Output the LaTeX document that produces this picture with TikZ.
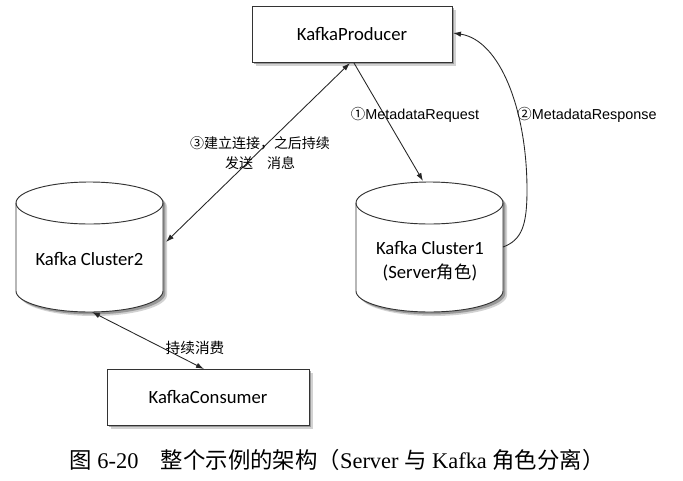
\documentclass[tikz,border=0pt]{standalone}
\usepackage{fontspec}
\setmainfont{Liberation Serif}
\newfontfamily\cjk{Noto Sans CJK SC}
\newfontfamily\calfont{Carlito}
\newfontfamily\arialfont{Liberation Sans}
\usetikzlibrary{arrows.meta,shadows}
\tikzset{
  boxnode/.style={draw=black!80, fill=white, line width=0.7pt, inner sep=0pt,
    minimum height=42pt, font=\calfont\fontsize{14}{16}\selectfont,
    drop shadow={shadow xshift=3pt, shadow yshift=-3pt, fill=black!35, opacity=.5},
    drop shadow={shadow xshift=1.8pt, shadow yshift=-1.8pt, fill=black!55, opacity=.6}},
  cylbody/.style={draw=black!80, fill=white, line width=0.7pt},
  cylshadowa/.style={fill=black!35, opacity=.5},
  cylshadowb/.style={fill=black!55, opacity=.6},
  cyllabel/.style={inner sep=1pt, align=center, font=\calfont\fontsize{14}{18}\selectfont},
  conn/.style={draw=black!85, line width=0.65pt},
  msglabel/.style={inner sep=1pt, font=\arialfont\fontsize{10.8}{13}\selectfont},
  cnlabel/.style={inner sep=1pt, align=center, font=\cjk\fontsize{10.5}{15.5}\selectfont},
}
\newcommand\cylpath[1]{(#1,203) -- (#1,291)
  arc[start angle=180,end angle=360,x radius=55.125pt,y radius=15.75pt] -- ++(0,-88)
  arc[start angle=0,end angle=180,x radius=55.125pt,y radius=15.75pt] -- cycle}
\begin{document}
\begin{tikzpicture}[x=0.75pt,y=-0.75pt,>={Latex[length=6pt,width=4pt]}]
\useasboundingbox (0,0) rectangle (683,480);
\fill[white] (0,0) rectangle (683,480);

% boxes
\node[boxnode, minimum width=150pt] (prod) at (352,34) {KafkaProducer};
\node[boxnode, minimum width=151.5pt] (cons) at (208,397) {KafkaConsumer};

% cylinder Cluster2
\fill[cylshadowa, shift={(4,4)}] \cylpath{16};
\fill[cylshadowb, shift={(2.4,2.4)}] \cylpath{16};
\draw[cylbody] \cylpath{16};
\draw[cylbody, fill=none] (16,203) arc[start angle=180,end angle=360,x radius=55.125pt,y radius=15.75pt];
\node[cyllabel] (c2) at (89.5,259) {Kafka Cluster2};

% cylinder Cluster1
\fill[cylshadowa, shift={(4,4)}] \cylpath{356};
\fill[cylshadowb, shift={(2.4,2.4)}] \cylpath{356};
\draw[cylbody] \cylpath{356};
\draw[cylbody, fill=none] (356,203) arc[start angle=180,end angle=360,x radius=55.125pt,y radius=15.75pt];
\node[cyllabel] (c1) at (430,261) {Kafka Cluster1\\({Server}{\cjk\fontsize{13}{18}\selectfont 角色})};

% connector end points
\coordinate (p3) at (350,63);
\coordinate (p1) at (354,63);
\coordinate (pr) at (453,33);
\coordinate (c2r) at (166,242);
\coordinate (c2b) at (92,312);
\coordinate (c1t) at (423,181);
\coordinate (c1r) at (503,247);
\coordinate (ct) at (204,369);
\coordinate (rm) at (527,190);

% connectors
\draw[conn, <->] (c2r) -- (p3);
\draw[conn, ->] (p1) -- (c1t);
\draw[conn, ->] (c1r) .. controls (522,240) and (527,225) .. (rm)
  .. controls (527,110) and (500,40) .. (pr);
\draw[conn, <->] (c2b) -- (ct);

% labels
\node[msglabel] (l1) at (415,115) {{\cjk ①}MetadataRequest};
\node[msglabel] (l2) at (587,115) {{\cjk ②}MetadataResponse};
\node[cnlabel] (l3) at (260,153) {③建立连接，之后持续\\发送　消息};
\node[cnlabel, font=\cjk\fontsize{11}{13}\selectfont] (l4) at (195,348) {持续消费};

% caption
\node[inner sep=0pt, font=\fontsize{16.8}{19}\selectfont] (cap) at (337,460)
  {{\cjk 图} 6-20\hspace{1em}{\cjk 整个示例的架构（}Server {\cjk 与} Kafka {\cjk 角色分离）}};
\end{tikzpicture}
\end{document}
